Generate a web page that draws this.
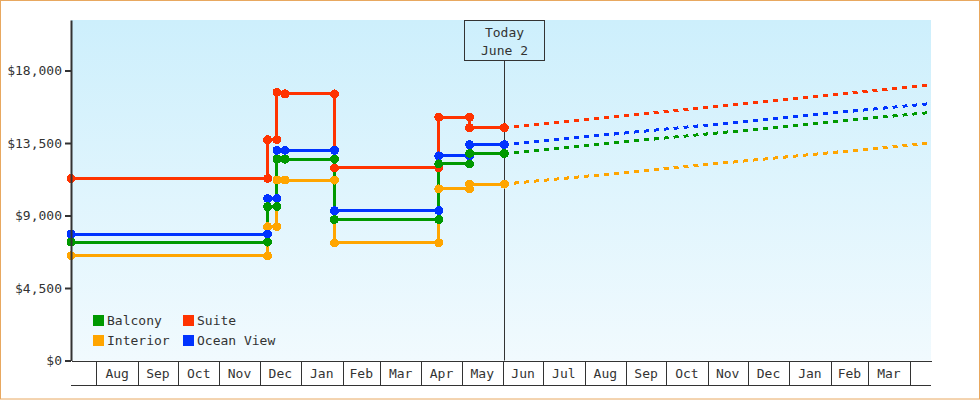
<!DOCTYPE html>
<html>
<head>
<meta charset="utf-8">
<script src="https://cdn.jsdelivr.net/npm/d3@7"></script>
<style>
  body { margin: 0; background: #fff; }
  svg { display: block; font-family: "DejaVu Sans Mono", monospace; font-size: 13px; }
  .axis text { fill: #333; font-family: "DejaVu Sans Mono", monospace; font-size: 13px; }
</style>
</head>
<body>
<div id="chart"></div>
<script>
// price history, one entry per point (two entries on a date = a price jump)
const dates = ["2013-07-13", "2013-12-07", "2013-12-07", "2013-12-14", "2013-12-14", "2013-12-20",
  "2014-01-26", "2014-01-26", "2014-04-14", "2014-04-14", "2014-05-07", "2014-05-07", "2014-06-02"];
const suite = [11300, 11300, 13700, 13700, 16650, 16550, 16550, 11950, 11950, 15100, 15100, 14450, 14450];
const oceanView = [7850, 7850, 10050, 10050, 13050, 13050, 13050, 9300, 9300, 12700, 12700, 13400, 13400];
const balcony = [7350, 7350, 9550, 9550, 12500, 12500, 12500, 8750, 8750, 12200, 12200, 12850, 12850];
const interior = [6500, 6500, 8300, 8300, 11200, 11200, 11200, 7300, 7300, 10650, 10650, 10950, 10950];

// forecast from today to the end of the axis
const forecastDates = ["2014-06-02", "2015-04-17"];
const suiteForecast = [14450, 17100];
const oceanViewForecast = [13400, 15950];
const balconyForecast = [12850, 15400];
const interiorForecast = [10950, 13500];

const yTicks = [0, 4500, 9000, 13500, 18000];
const today = "2014-06-02";
const todayLabel = ["Today", "June 2"];

const width = 980;
const height = 400;
const margin = { top: 20, right: 49, bottom: 39.5, left: 71 };

const parse = d3.utcParse("%Y-%m-%d");

const series = [
  { name: "Interior", color: "#ffa500", values: interior, forecast: interiorForecast },
  { name: "Suite", color: "#ff3300", values: suite, forecast: suiteForecast },
  { name: "Ocean View", color: "#0033ff", values: oceanView, forecast: oceanViewForecast },
  { name: "Balcony", color: "#009900", values: balcony, forecast: balconyForecast },
];
const legendOrder = ["Balcony", "Suite", "Interior", "Ocean View"];

const x = d3
  .scaleUtc()
  .domain([parse(dates[0]), parse(forecastDates[1])])
  .range([margin.left, width - margin.right]);

const y = d3
  .scaleLinear()
  .domain([0, 21135])
  .range([height - margin.bottom, margin.top]);

const svg = d3
  .select("#chart")
  .append("svg")
  .attr("width", width)
  .attr("height", height);

// outer frame
svg
  .append("rect")
  .attr("x", 0.5)
  .attr("y", 0.5)
  .attr("width", width - 1)
  .attr("height", height - 1.5)
  .attr("fill", "#fff")
  .attr("stroke", "#e8a860");

const grad = svg
  .append("defs")
  .append("linearGradient")
  .attr("id", "bg")
  .attr("x1", 0)
  .attr("y1", 0)
  .attr("x2", 0)
  .attr("y2", 1);
grad.append("stop").attr("offset", "0%").attr("stop-color", "#cdeffc");
grad.append("stop").attr("offset", "100%").attr("stop-color", "#f1fafe");

svg
  .append("rect")
  .attr("x", margin.left)
  .attr("y", margin.top)
  .attr("width", width - margin.left - margin.right)
  .attr("height", height - margin.top - margin.bottom)
  .attr("fill", "url(#bg)");

// today marker
const tx = Math.round(x(parse(today))) + 0.5;
svg
  .append("line")
  .attr("x1", tx)
  .attr("x2", tx)
  .attr("y1", 60.5)
  .attr("y2", y(0))
  .attr("stroke", "#333");
svg
  .append("rect")
  .attr("x", tx - 40)
  .attr("y", 20.5)
  .attr("width", 80)
  .attr("height", 40)
  .attr("fill", "none")
  .attr("stroke", "#333");
svg
  .selectAll(".today-label")
  .data(todayLabel)
  .enter()
  .append("text")
  .attr("class", "today-label")
  .attr("x", tx)
  .attr("y", (d, i) => 37 + i * 18)
  .attr("text-anchor", "middle")
  .attr("fill", "#333")
  .text((d) => d);

// lines
const line = d3
  .line()
  .x((d) => x(d.date))
  .y((d) => y(d.value));

const history = series.map((s) => ({
  ...s,
  points: s.values.map((v, i) => ({ date: parse(dates[i]), value: v })),
  future: s.forecast.map((v, i) => ({ date: parse(forecastDates[i]), value: v })),
}));

svg
  .append("g")
  .selectAll("path")
  .data(history)
  .enter()
  .append("path")
  .attr("d", (d) => line(d.future))
  .attr("fill", "none")
  .attr("stroke", (d) => d.color)
  .attr("stroke-width", 3)
  .attr("stroke-dasharray", "5,5")
  .attr("shape-rendering", "crispEdges");

svg
  .append("g")
  .selectAll("path")
  .data(history)
  .enter()
  .append("path")
  .attr("d", (d) => line(d.points))
  .attr("fill", "none")
  .attr("stroke", (d) => d.color)
  .attr("stroke-width", 3)
  .attr("shape-rendering", "crispEdges");

history.forEach((s) => {
  svg
    .append("g")
    .selectAll("circle")
    .data(s.points)
    .enter()
    .append("circle")
    .attr("cx", (d) => x(d.date))
    .attr("cy", (d) => y(d.value))
    .attr("r", 4.5)
    .attr("fill", s.color)
    .attr("shape-rendering", "crispEdges");
});

// y axis
const yAxis = svg
  .append("g")
  .attr("class", "axis")
  .attr("transform", `translate(${margin.left},0)`)
  .call(
    d3
      .axisLeft(y)
      .tickValues(yTicks)
      .tickFormat(d3.format("$,"))
      .tickSize(6)
      .tickSizeOuter(0)
      .tickPadding(3)
  );
yAxis.selectAll("path, line").attr("stroke", "#333").attr("stroke-width", 2);

// x axis: month boxes
const months = x.ticks(d3.utcMonth.every(1));
const xAxis = svg
  .append("g")
  .attr("class", "axis")
  .attr("transform", `translate(0,${y(0)})`)
  .call(
    d3
      .axisBottom(x)
      .tickValues(months)
      .tickSize(25)
      .tickSizeOuter(0)
      .tickFormat("")
  );
xAxis.selectAll("path, line").attr("stroke", "#333").attr("shape-rendering", "crispEdges");
xAxis
  .append("line")
  .attr("x1", margin.left)
  .attr("x2", width - margin.right)
  .attr("y1", 25)
  .attr("y2", 25)
  .attr("stroke", "#333")
  .attr("shape-rendering", "crispEdges");
xAxis
  .selectAll(".month")
  .data(months.slice(0, -1))
  .enter()
  .append("text")
  .attr("class", "month")
  .attr("x", (d, i) => (x(d) + x(months[i + 1])) / 2)
  .attr("y", 17)
  .attr("text-anchor", "middle")
  .attr("fill", "#333")
  .text(d3.utcFormat("%b"));

// legend
const legend = svg
  .append("g")
  .selectAll("g")
  .data(legendOrder)
  .enter()
  .append("g")
  .attr("transform", (d, i) => `translate(${93 + (i % 2) * 90},${315 + Math.floor(i / 2) * 20})`);
legend
  .append("rect")
  .attr("width", 11)
  .attr("height", 11)
  .attr("fill", (d) => series.find((s) => s.name === d).color);
legend
  .append("text")
  .attr("x", 14)
  .attr("y", 10)
  .attr("fill", "#333")
  .text((d) => d);
</script>
</body>
</html>
